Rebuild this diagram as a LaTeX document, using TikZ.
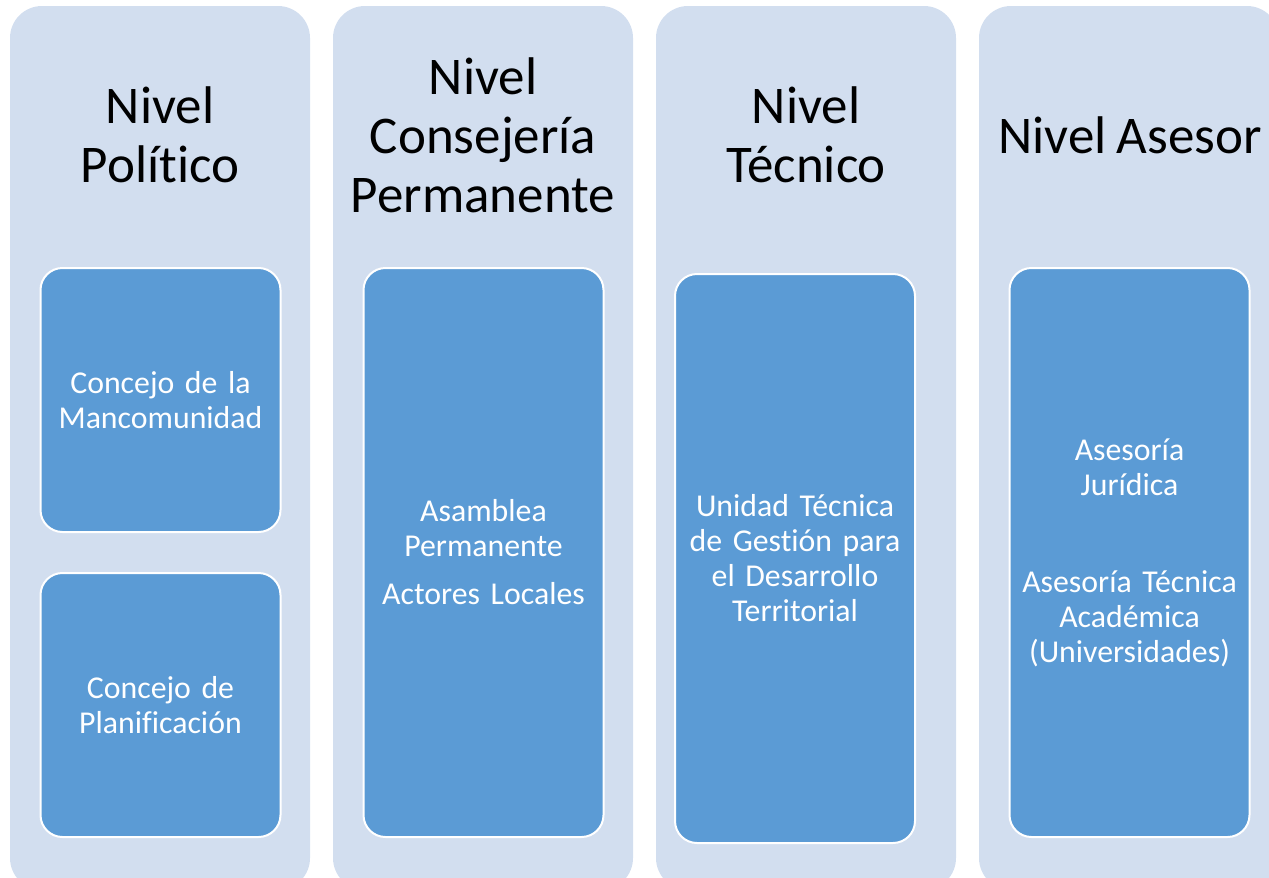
\documentclass[tikz,border=0pt]{standalone}
\usepackage{fontspec}
\setmainfont{Carlito}[Ligatures=NoCommon, WordSpace=0.7]
\definecolor{fondo}{HTML}{D2DEEF}
\definecolor{azul}{HTML}{5B9BD5}
\tikzset{
  columna/.style={fill=fondo, rounded corners=32pt, minimum width=300pt, minimum height=884pt, inner sep=0pt},
  caja/.style={fill=azul, draw=white, line width=2pt, rounded corners=22pt, minimum width=240pt, text width=236pt, align=center, text=white, inner sep=0pt, font=\fontsize{31.8}{35}\selectfont},
  titulo/.style={align=center, inner sep=0pt, font=\fontsize{53}{59}\selectfont}
}

\begin{document}
\begin{tikzpicture}[x=1pt, y=-1pt]
    \useasboundingbox (0,0) rectangle (1269,878);
    \clip (0,0) rectangle (1269,878);
    \node[columna] (politico) at (160,448){};
    \node[columna] (consejeria) at (483,448){};
    \node[columna] (tecnico) at (806,448){};
    \node[columna] (asesor) at (1129,448){};
    \node[titulo] (tpolitico) at (160,135){Nivel\\Político};
    \node[titulo] (tconsejeria) at (483,135){Nivel\\Consejería\\Permanente};
    \node[titulo] (ttecnico) at (806,135){Nivel\\Técnico};
    \node[titulo] (tasesor) at (1130,135){Nivel\hspace{2pt} Asesor};
    \node[caja, minimum height=264pt] (concejo) at (160.5,400){Concejo de la\\Mancomunidad};
    \node[caja, minimum height=264pt] (planificacion) at (160.5,705){Concejo de\\Planificación};
    \node[caja, minimum height=569pt] (asamblea) at (483.5,552.5){Asamblea\\Permanente\\[13pt]Actores Locales};
    \node[caja, minimum height=569pt] (unidad) at (795,558.5){Unidad Técnica\\de Gestión para\\el Desarrollo\\Territorial};
    \node[caja, minimum height=569pt] (asesoria) at (1129.5,552.5){Asesoría\\Jurídica\\[62pt]Asesoría Técnica\\Académica\\(Universidades)};
\end{tikzpicture}
\end{document}
